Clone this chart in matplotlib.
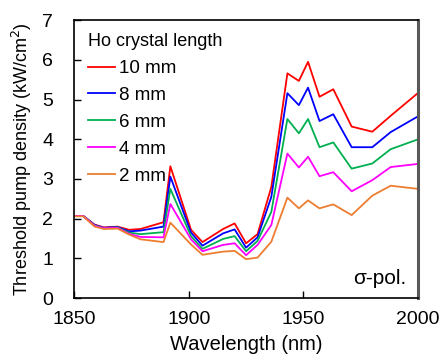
import matplotlib
matplotlib.use("Agg")
import matplotlib.pyplot as plt

plt.rcParams['font.family'] = ['Liberation Sans', 'DejaVu Sans']

# wavelength grid (nm)
wl = [1850, 1854, 1859, 1863, 1869, 1874, 1879, 1889, 1892, 1901, 1906, 1915,
      1920, 1925, 1930, 1936, 1943, 1948, 1952, 1957, 1963, 1971, 1980, 1988, 2000]

# threshold pump density (kW/cm^2) per crystal length
mm10 = [2.07, 2.07, 1.85, 1.78, 1.80, 1.72, 1.74, 1.91, 3.32, 1.72, 1.41, 1.74,
        1.88, 1.38, 1.61, 2.80, 5.66, 5.47, 5.95, 5.07, 5.26, 4.32, 4.19, 4.59, 5.17]
mm8 = [2.07, 2.07, 1.84, 1.77, 1.79, 1.68, 1.70, 1.80, 3.06, 1.65, 1.32, 1.63,
       1.73, 1.27, 1.53, 2.55, 5.16, 4.86, 5.30, 4.46, 4.63, 3.80, 3.80, 4.18, 4.58]
mm6 = [2.07, 2.07, 1.83, 1.76, 1.78, 1.65, 1.61, 1.66, 2.75, 1.56, 1.24, 1.49,
       1.56, 1.18, 1.44, 2.17, 4.51, 4.15, 4.51, 3.80, 3.92, 3.26, 3.39, 3.75, 4.00]
mm4 = [2.07, 2.07, 1.82, 1.76, 1.77, 1.62, 1.54, 1.53, 2.37, 1.48, 1.18, 1.34,
       1.38, 1.08, 1.34, 1.84, 3.64, 3.29, 3.56, 3.07, 3.17, 2.69, 2.97, 3.30, 3.38]
mm2 = [2.06, 2.06, 1.80, 1.74, 1.75, 1.60, 1.48, 1.41, 1.90, 1.35, 1.09, 1.17,
       1.19, 0.98, 1.02, 1.42, 2.53, 2.26, 2.46, 2.26, 2.36, 2.09, 2.58, 2.83, 2.75]

labels = ['10 mm', '8 mm', '6 mm', '4 mm', '2 mm']
colors = ['#FF0000', '#0000FF', '#00B050', '#FF00FF', '#ED7D31']

fig = plt.figure(figsize=(4.43, 3.6), dpi=100)
ax = fig.add_axes([0.167, 0.172, 0.777, 0.772])

for ys, lab, c in zip([mm10, mm8, mm6, mm4, mm2], labels, colors):
    ax.plot(wl, ys, color=c, lw=1.3, label=lab)

ax.set_xlim(1850, 2000)
ax.set_ylim(0, 7)
ax.set_xticks([1850, 1900, 1950, 2000])
ax.set_yticks(range(8))
ax.tick_params(direction='in', length=5, width=1, labelsize=14)
ax.tick_params(axis='x', pad=9)
ax.tick_params(axis='y', pad=15)

for s in ['left', 'bottom', 'top']:
    ax.spines[s].set_linewidth(1.2)
    ax.spines[s].set_color('black')
ax.spines['right'].set_linewidth(2.2)
ax.spines['right'].set_color('#595959')

ax.set_xlabel('Wavelength (nm)', fontsize=14.5, labelpad=5)
ax.set_ylabel('Threshold pump density (kW/cm$^2$)', fontsize=13, labelpad=6)

leg = ax.legend(title='Ho crystal length', loc='upper left', frameon=False,
                bbox_to_anchor=(0.003, 1.0),
                fontsize=13.5, title_fontsize=13, handlelength=1.45,
                handletextpad=0.2, labelspacing=0.52, borderaxespad=0.3,
                alignment='left')

ax.text(0.965, 0.035, '\u03c3-pol.', transform=ax.transAxes, ha='right',
        va='bottom', fontsize=15)

fig.savefig('out.png', dpi=100)
